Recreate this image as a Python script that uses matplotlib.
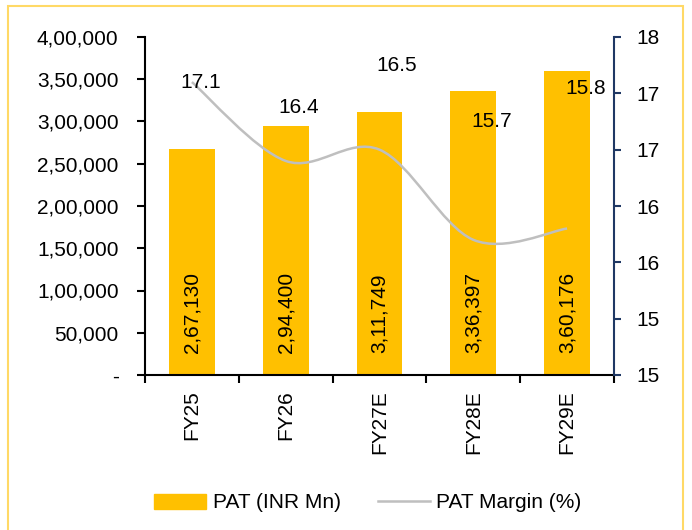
import numpy as np
import matplotlib
matplotlib.use("Agg")
import matplotlib.pyplot as plt
from matplotlib.path import Path
from matplotlib.patches import PathPatch, Rectangle
from matplotlib.lines import Line2D

plt.rcParams['font.family'] = ['Liberation Sans', 'DejaVu Sans']
plt.rcParams['font.size'] = 15

years = ['FY25', 'FY26', 'FY27E', 'FY28E', 'FY29E']
pat = [267130, 294400, 311749, 336397, 360176]
margin = [17.1, 16.4, 16.5, 15.7, 15.8]

# label offsets (pixels) for margin labels, as placed in the source chart
margin_lbl_dx = [9, 13, 17, 18, 19]
margin_lbl_dy = [0, 53, 84, 118, 140]

bar_color = '#FFC000'
line_color = '#BFBFBF'
navy = '#1F3864'


def indian(n):
    n = int(round(n))
    if n == 0:
        return '-'
    s = str(n)
    if len(s) <= 3:
        return s
    head, tail = s[:-3], s[-3:]
    parts = []
    while len(head) > 2:
        parts.insert(0, head[-2:])
        head = head[:-2]
    if head:
        parts.insert(0, head)
    return ','.join(parts) + ',' + tail


def smooth_path(xs, ys):
    # Catmull-Rom style smoothing like Excel's smoothed line
    pts = np.column_stack([xs, ys]).astype(float)
    verts = [pts[0]]
    codes = [Path.MOVETO]
    n = len(pts)
    for i in range(n - 1):
        p0 = pts[i - 1] if i > 0 else pts[i]
        p1 = pts[i]
        p2 = pts[i + 1]
        p3 = pts[i + 2] if i + 2 < n else pts[i + 1]
        c1 = p1 + (p2 - p0) / 6.0
        c2 = p2 - (p3 - p1) / 6.0
        verts += [c1, c2, p2]
        codes += [Path.CURVE4] * 3
    return Path(verts, codes)


fig = plt.figure(figsize=(6.92, 5.30), dpi=100)
ax = fig.add_axes([145 / 692, 1 - 375 / 530, (614 - 145) / 692, (375 - 37) / 530])
ax2 = ax.twinx()

x = np.arange(len(years))
bars = ax.bar(x, pat, width=0.49, color=bar_color, zorder=2)
for xi, v in zip(x, pat):
    ax.annotate(indian(v), (xi, 0), xytext=(0, 16), textcoords='offset points',
                rotation=90, ha='center', va='bottom', fontsize=15)

ax.set_xlim(-0.5, len(years) - 0.5)
ax.set_ylim(0, 400000)
ax.set_yticks(np.arange(0, 400001, 50000))
ax.set_yticklabels([indian(v) for v in np.arange(0, 400001, 50000)])
ax.set_xticks(x)
ax.set_xticklabels(years, rotation=90)
ax.set_xticks(np.arange(-0.5, len(years), 1), minor=True)
ax.tick_params(axis='x', which='major', length=0, pad=11)
ax.tick_params(axis='x', which='minor', length=6, width=1.5, color='black')
ax.tick_params(axis='y', length=6, width=1.5, color='black', pad=13)

for sp in ['top', 'right']:
    ax.spines[sp].set_visible(False)
ax.spines['left'].set_linewidth(1.5)
ax.spines['bottom'].set_linewidth(1.5)

ax2.set_ylim(14.5, 17.5)
rt = np.arange(14.5, 17.51, 0.5)
ax2.set_yticks(rt)
ax2.set_yticklabels([str(int(np.floor(v + 0.5))) for v in rt])
ax2.tick_params(axis='y', length=5, width=1.5, color=navy, pad=11)
for sp in ['top', 'left', 'bottom']:
    ax2.spines[sp].set_visible(False)
ax2.spines['right'].set_color(navy)
ax2.spines['right'].set_linewidth(1.5)

ax2.add_patch(PathPatch(smooth_path(x, margin), facecolor='none',
                        edgecolor=line_color, linewidth=1.8, zorder=3))
for xi, m, dx, dy in zip(x, margin, margin_lbl_dx, margin_lbl_dy):
    ax2.annotate(f'{m:.1f}', (xi, m), xytext=(dx * 0.72, dy * 0.72),
                 textcoords='offset points', ha='center', va='center', fontsize=15)

handles = [Rectangle((0, 0), 1, 1, color=bar_color),
           Line2D([0], [0], color=line_color, linewidth=1.8)]
fig.legend(handles, ['PAT (INR Mn)', 'PAT Margin (%)'], loc='center',
           bbox_to_anchor=(368 / 692, 1 - 503 / 530), ncol=2, frameon=False,
           handlelength=2.5, handletextpad=0.3, columnspacing=1.8, fontsize=15)

fig.patches.append(Rectangle((8 / 692, -0.02), (683 - 8) / 692, 1 - 6 / 530 + 0.02,
                             transform=fig.transFigure, fill=False,
                             edgecolor='#FFD966', linewidth=1.5))

fig.savefig('out.png', dpi=100)
